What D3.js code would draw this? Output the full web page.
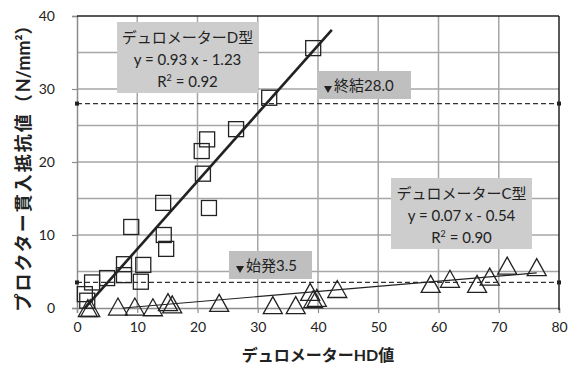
<!DOCTYPE html>
<html>
<head>
<meta charset="utf-8">
<script src="https://cdn.jsdelivr.net/npm/d3@7"></script>
<style>
  body { margin: 0; background: #fff; }
  svg { display: block; }
  text { font-family: Lato, "Noto Sans CJK JP", sans-serif; fill: #222; }
</style>
</head>
<body>
<div id="chart"></div>
<script>
// デュロメーターD型 (squares)
var dX = [1.3, 1.7, 2.5, 5.0, 7.8, 7.8, 10.6, 11.0, 9.0, 14.4, 14.8, 14.3, 20.9, 20.7, 21.6, 21.9, 26.4, 31.9, 39.2];
var dY = [1.9, 1.0, 3.5, 4.1, 4.5, 6.0, 3.6, 5.9, 11.1, 10.0, 8.1, 14.4, 18.4, 21.5, 23.1, 13.7, 24.5, 28.8, 35.6];
// デュロメーターC型 (triangles)
var cX = [1.8, 2.2, 6.8, 9.6, 12.6, 15.1, 15.8, 23.6, 32.5, 36.3, 38.7, 39.2, 39.8, 43.2, 58.7, 61.9, 66.4, 68.5, 71.4, 76.3];
var cY = [0.0, 0.0, 0.2, 0.2, 0.1, 0.8, 0.5, 0.7, 0.4, 0.4, 2.2, 1.2, 1.4, 2.6, 3.3, 4.0, 3.3, 4.3, 5.8, 5.6];

var dFit = {slope: 0.93, icpt: -1.23, from: 1.3, to: 42.3};
var cFit = {slope: 0.07, icpt: -0.54, from: 7.7, to: 76.3};

var xTicks = [0, 10, 20, 30, 40, 50, 60, 70, 80];
var yTicks = [0, 10, 20, 30, 40];
var yGrid = [5, 10, 15, 20, 25, 30, 35];
var limits = [{v: 28.0, label: "終結28.0"}, {v: 3.5, label: "始発3.5"}];

var W = 570, H = 368;
var margin = {top: 16, right: 11, bottom: 60, left: 77};
var width = W - margin.left - margin.right;
var height = H - margin.top - margin.bottom;

var svg = d3.select("#chart").append("svg")
  .attr("width", W).attr("height", H);

var g = svg.append("g")
  .attr("transform", "translate(" + margin.left + "," + margin.top + ")");

var x = d3.scaleLinear().domain([0, 80]).range([0, width]);
var y = d3.scaleLinear().domain([0, 40]).range([height, 0]);

// grid
g.selectAll(".gx").data(xTicks.slice(1, -1)).enter().append("line")
  .attr("x1", d => x(d)).attr("x2", d => x(d))
  .attr("y1", 0).attr("y2", height)
  .attr("stroke", "#a6a6a6").attr("stroke-width", 1.5);
g.selectAll(".gy").data(yGrid).enter().append("line")
  .attr("x1", 0).attr("x2", width)
  .attr("y1", d => y(d)).attr("y2", d => y(d))
  .attr("stroke", "#a6a6a6").attr("stroke-width", 1.5);

// axes
var xAxis = g.append("g").attr("transform", "translate(0," + height + ")")
  .call(d3.axisBottom(x).tickValues(xTicks).tickSize(5).tickPadding(9));
var yAxis = g.append("g")
  .call(d3.axisLeft(y).tickValues(yTicks).tickSize(5).tickPadding(17));
[xAxis, yAxis].forEach(function(a) {
  a.select(".domain").attr("stroke", "#8c8c8c").attr("stroke-width", 1.5);
  a.selectAll(".tick line").attr("stroke", "#8c8c8c").attr("stroke-width", 1.2);
  a.selectAll("text").attr("font-size", 14).attr("fill", "#333")
    .attr("font-family", "Lato, sans-serif");
});
// top and right border
g.append("line").attr("x1", 0).attr("x2", width).attr("y1", 0).attr("y2", 0)
  .attr("stroke", "#222").attr("stroke-width", 1.5);
g.append("line").attr("x1", width).attr("x2", width).attr("y1", 0).attr("y2", height + 2)
  .attr("stroke", "#222").attr("stroke-width", 1.5);

// threshold dashed lines
limits.forEach(function(l) {
  g.append("line")
    .attr("x1", x(0)).attr("x2", x(80))
    .attr("y1", y(l.v)).attr("y2", y(l.v))
    .attr("stroke", "#333").attr("stroke-width", 1.2)
    .attr("stroke-dasharray", "5,3");
  [0, 80].forEach(function(e) {
    g.append("rect").attr("x", x(e) - 2).attr("y", y(l.v) - 2)
      .attr("width", 4).attr("height", 4).attr("fill", "#222");
  });
});

// regression lines
g.append("line")
  .attr("x1", x(dFit.from)).attr("y1", y(dFit.slope * dFit.from + dFit.icpt))
  .attr("x2", x(dFit.to)).attr("y2", y(dFit.slope * dFit.to + dFit.icpt))
  .attr("stroke", "#222").attr("stroke-width", 2.6);
g.append("line")
  .attr("x1", x(cFit.from)).attr("y1", y(cFit.slope * cFit.from + cFit.icpt))
  .attr("x2", x(cFit.to)).attr("y2", y(cFit.slope * cFit.to + cFit.icpt))
  .attr("stroke", "#222").attr("stroke-width", 1.2);

// markers
var sq = 15;
g.selectAll(".sq").data(dX).enter().append("rect")
  .attr("x", (d, i) => x(d) - sq / 2)
  .attr("y", (d, i) => y(dY[i]) - sq / 2)
  .attr("width", sq).attr("height", sq)
  .attr("fill", "none").attr("stroke", "#222").attr("stroke-width", 1.3);

var tw = 19, th = 17;
g.selectAll(".tri").data(cX).enter().append("path")
  .attr("d", function(d, i) {
    var cx = x(d), cy = y(cY[i]);
    return "M" + cx + "," + (cy - th / 2) + "L" + (cx + tw / 2) + "," + (cy + th / 2) +
      "L" + (cx - tw / 2) + "," + (cy + th / 2) + "Z";
  })
  .attr("fill", "none").attr("stroke", "#222").attr("stroke-width", 1.3);

// equation labels
function eqBox(bx, by, lines) {
  var b = svg.append("g").attr("transform", "translate(" + bx + "," + by + ")");
  b.append("rect").attr("width", 141).attr("height", 71).attr("fill", "#cdcdcd");
  b.selectAll("text").data(lines).enter().append("text")
    .attr("x", 70.5).attr("y", (d, i) => 21 + i * 22)
    .attr("text-anchor", "middle").attr("font-size", 15)
    .html(d => d);
}
eqBox(117, 22, ["デュロメーターD型", "y = 0.93 x - 1.23", "R<tspan font-size='9' dy='-6'>2</tspan><tspan dy='6'> = 0.92</tspan>"]);
eqBox(391, 178, ["デュロメーターC型", "y = 0.07 x - 0.54", "R<tspan font-size='9' dy='-6'>2</tspan><tspan dy='6'> = 0.90</tspan>"]);

// threshold labels
function limBox(bx, by, w, label) {
  var b = svg.append("g").attr("transform", "translate(" + bx + "," + by + ")");
  b.append("rect").attr("width", w).attr("height", 28).attr("fill", "#bfbfbf");
  b.append("path").attr("d", "M7,15 L15,15 L11,22 Z").attr("fill", "#222");
  b.append("text").attr("x", 17).attr("y", 20).attr("font-size", 15).text(label);
}
limBox(317, 71, 94, limits[0].label);
limBox(229, 251, 83, limits[1].label);

// axis titles
svg.append("text")
  .attr("x", 318).attr("y", 361)
  .attr("text-anchor", "middle").attr("font-size", 16).attr("font-weight", "bold")
  .attr("font-family", "'Noto Sans CJK JP', sans-serif")
  .text("デュロメーターHD値");
var yt = svg.append("text")
  .attr("transform", "translate(30,164) rotate(-90)")
  .attr("text-anchor", "middle").attr("font-size", 18).attr("font-weight", "bold")
  .attr("font-family", "'Noto Sans CJK JP', sans-serif");
yt.append("tspan").attr("letter-spacing", 2).text("プロクター貫入抵抗値（");
yt.append("tspan").text("N/mm²）");
</script>
</body>
</html>
